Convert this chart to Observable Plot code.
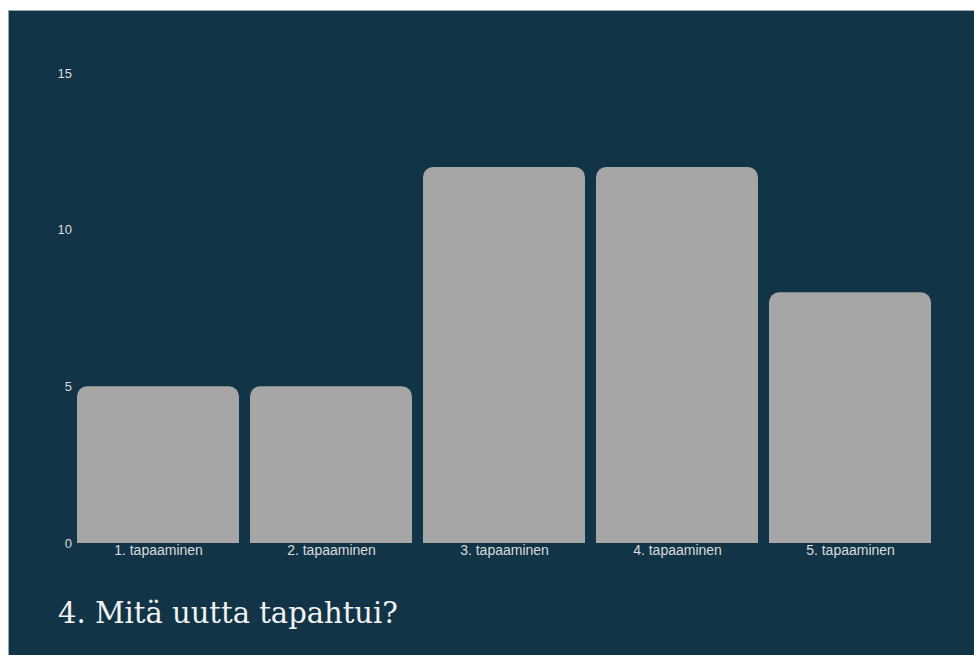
<!DOCTYPE html>
<html>
<head>
<meta charset="utf-8">
<script src="https://cdn.jsdelivr.net/npm/d3@7"></script>
<script src="https://cdn.jsdelivr.net/npm/@observablehq/plot@0.6"></script>
<style>
  html, body { margin: 0; padding: 0; background: #ffffff; width: 974px; height: 655px; overflow: hidden; }
  #panel { position: absolute; left: 8px; top: 10px; width: 966px; height: 645px; background: #113447; border-left: 1px solid #9aa4aa; border-top: 1px solid #9aa4aa; box-sizing: border-box; }
  #chart { position: absolute; left: -1px; top: -1px; }
  #title { position: absolute; left: 49px; top: 585px; font-family: "DejaVu Serif", serif; font-size: 29px; color: #f2f2f2; white-space: nowrap; }
  #chart svg g[aria-label="x-axis tick label"] { font-size: 14px; }
  #chart svg g[aria-label="y-axis tick label"] { font-size: 13px; }
</style>
</head>
<body>
<div id="panel">
  <div id="chart"></div>
  <div id="title">4. Mitä uutta tapahtui?</div>
</div>
<script>
const categories = ["1. tapaaminen", "2. tapaaminen", "3. tapaaminen", "4. tapaaminen", "5. tapaaminen"];
const values = [5, 5, 12, 12, 8];
const yTicks = [0, 5, 10, 15];

const data = categories.map((c, i) => ({category: c, value: values[i]}));

const chart = Plot.plot({
  width: 966,
  height: 560,
  marginTop: 63,
  marginBottom: 27,
  marginLeft: 63.5,
  marginRight: 37.5,
  style: {background: "transparent", color: "#dcdcdc", fontFamily: "Liberation Sans, Arial, sans-serif", fontSize: "13px"},
  x: {domain: categories, paddingInner: 0.064, paddingOuter: 0.032, label: null, tickSize: 0, tickPadding: 2},
  y: {domain: [0, 15], ticks: yTicks, label: null, tickSize: 0, tickPadding: 0},
  marks: [
    Plot.barY(data, {x: "category", y: "value", fill: "#a6a6a6", ry1: 10})
  ]
});
document.getElementById("chart").appendChild(chart);
</script>
</body>
</html>
